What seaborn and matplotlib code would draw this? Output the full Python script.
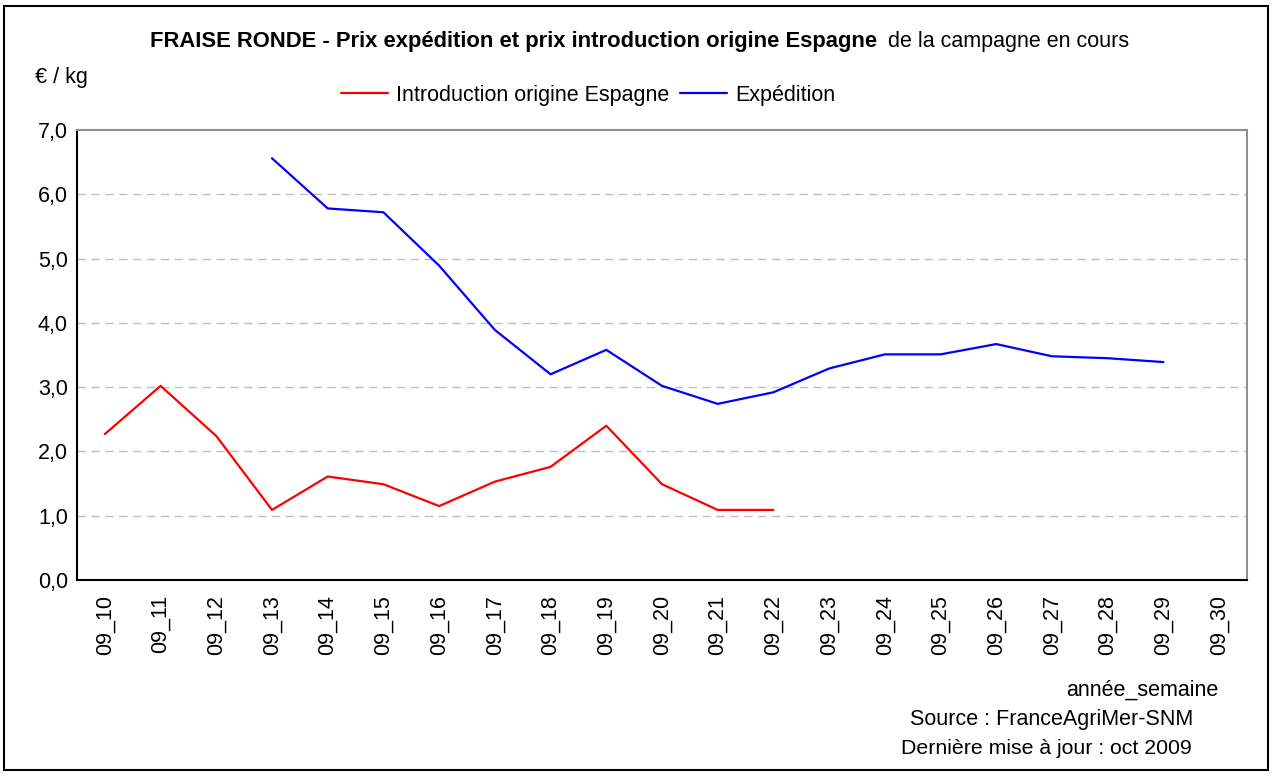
import numpy as np
import pandas as pd
import matplotlib
matplotlib.use("Agg")
import matplotlib.pyplot as plt
from matplotlib.patches import Rectangle
from matplotlib.ticker import FixedLocator, FuncFormatter
import seaborn as sns

weeks = ["09_10", "09_11", "09_12", "09_13", "09_14", "09_15", "09_16", "09_17",
         "09_18", "09_19", "09_20", "09_21", "09_22", "09_23", "09_24", "09_25",
         "09_26", "09_27", "09_28", "09_29", "09_30"]
intro_espagne = [2.27, 3.02, 2.24, 1.09, 1.61, 1.49, 1.15, 1.53, 1.76, 2.40,
                 1.49, 1.09, 1.09, None, None, None, None, None, None, None, None]
expedition = [None, None, None, 6.56, 5.78, 5.72, 4.89, 3.89, 3.20, 3.58,
              3.02, 2.74, 2.92, 3.29, 3.51, 3.51, 3.67, 3.48, 3.45, 3.39, None]

series_names = ["Introduction origine Espagne", "Expédition"]
series_colors = ["#ff0000", "#0000ff"]

pos = list(range(len(weeks)))
df = pd.DataFrame({
    "pos": pos * 2,
    "prix": intro_espagne + expedition,
    "serie": [series_names[0]] * len(weeks) + [series_names[1]] * len(weeks),
}).dropna()

sns.set_style("white")
plt.rcParams["font.family"] = ["Liberation Sans", "DejaVu Sans"]
plt.rcParams["text.color"] = "black"

fig = plt.figure(figsize=(12.74, 7.76), dpi=100)
ax = fig.add_axes([77 / 1274, 1 - 580 / 776, 1170 / 1274, 450 / 776])

sns.lineplot(data=df, x="pos", y="prix", hue="serie", hue_order=series_names,
             palette=series_colors, linewidth=1.6, ax=ax, legend=False, sort=False)

ax.set_xlim(-0.5, len(weeks) - 0.5)
ax.set_ylim(0, 7)
ax.set_xlabel("")
ax.set_ylabel("")

ax.set_xticks(pos)
ax.set_xticklabels(weeks, rotation=90, fontsize=15.5)
ax.xaxis.set_minor_locator(FixedLocator(np.arange(-0.5, len(weeks), 1.0)))
ax.tick_params(axis="x", which="major", length=0, pad=11)
ax.tick_params(axis="x", which="minor", length=6, width=1, color="black", direction="out")

ax.set_yticks(range(0, 8))
ax.yaxis.set_major_formatter(FuncFormatter(lambda v, p: f"{v:.1f}".replace(".", ",")))
ax.tick_params(axis="y", length=5, width=1, color="black", direction="out", labelsize=15.5, pad=1.5)
ax.tick_params(axis="both", colors="black", which="both")

for y in range(1, 7):
    ax.axhline(y, color="#c0c0c0", linestyle=(0, (6, 4)), linewidth=1, zorder=0)

ax.spines["left"].set_color("black")
ax.spines["bottom"].set_color("black")
ax.spines["top"].set_color("#909090")
ax.spines["right"].set_color("#909090")
for s in ax.spines.values():
    s.set_linewidth(1.5)
    s.set_visible(True)

# legend
handles = [plt.Line2D([], [], color=c, linewidth=1.6) for c in series_colors]
fig.legend(handles, series_names, loc="center", bbox_to_anchor=(588 / 1274, 1 - 95 / 776),
           ncol=2, frameon=False, fontsize=15.5, handlelength=2.2, handletextpad=0.37,
           columnspacing=0.5, labelcolor="black")

# title
fig.text(150 / 1274, 1 - 42 / 776,
         "FRAISE RONDE - Prix expédition et prix introduction origine Espagne",
         fontsize=15.85, fontweight="bold", ha="left", va="center")
fig.text(888 / 1274, 1 - 42 / 776, "de la campagne en cours",
         fontsize=15.5, ha="left", va="center")

fig.text(35 / 1274, 1 - 78 / 776, "€ / kg", fontsize=15.5, ha="left", va="center")

fig.text(1218 / 1274, 1 - 690 / 776, "année_semaine", fontsize=15.5, ha="right", va="center")
fig.text(1193 / 1274, 1 - 719 / 776, "Source : FranceAgriMer-SNM", fontsize=15.5, ha="right", va="center")
fig.text(1192 / 1274, 1 - 748 / 776, "Dernière mise à jour : oct 2009", fontsize=15.3, ha="right", va="center")

fig.patches.append(Rectangle((4 / 1274, 1 - 770 / 776), 1264 / 1274, 764 / 776,
                             transform=fig.transFigure, fill=False,
                             edgecolor="black", linewidth=1.5))

fig.savefig("out.png", dpi=100)
